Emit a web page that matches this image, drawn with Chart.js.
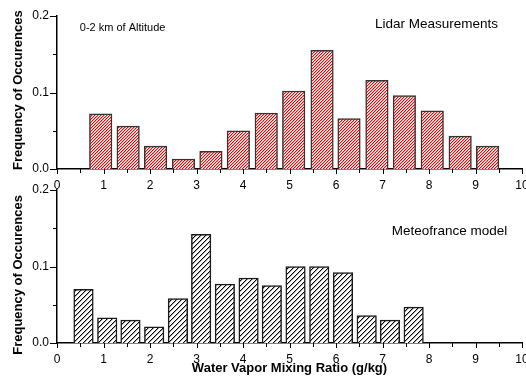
<!DOCTYPE html>
<html>
<head>
<meta charset="utf-8">
<script src="https://cdn.jsdelivr.net/npm/chart.js@4"></script>
<style>
  body { margin: 0; background: #fff; }
  #wrap { position: relative; width: 526px; height: 376px; overflow: hidden; }
  .panel { position: absolute; left: 0; width: 526px; }
</style>
</head>
<body>
<div id="wrap">
  <div class="panel" style="top:0;height:190px"><canvas id="lidarChart"></canvas></div>
  <div class="panel" style="top:176px;height:200px"><canvas id="modelChart"></canvas></div>
</div>
<script>
// bin centres (g/kg) and frequencies
const lidarBins = [0.94, 1.53, 2.12, 2.72, 3.31, 3.90, 4.50, 5.09, 5.70, 6.28, 6.88, 7.47, 8.07, 8.67, 9.26];
const lidarFreq = [0.072, 0.056, 0.030, 0.013, 0.023, 0.050, 0.073, 0.102, 0.155, 0.066, 0.116, 0.096, 0.076, 0.043, 0.030];

const modelBins = [0.57, 1.08, 1.58, 2.09, 2.60, 3.10, 3.61, 4.12, 4.62, 5.13, 5.64, 6.15, 6.66, 7.16, 7.67];
const modelFreq = [0.070, 0.033, 0.030, 0.021, 0.058, 0.142, 0.077, 0.085, 0.075, 0.100, 0.100, 0.092, 0.036, 0.030, 0.047];

const xTickLabels = ["0", "1", "2", "3", "4", "5", "6", "7", "8", "9", "10"];
const yTickLabels = ["0.0", "0.1", "0.2"];
const yTitle = "Frequency of Occurences";
const xTitle = "Water Vapor Mixing Ratio (g/kg)";

const FONT = "'Liberation Sans', Arial, sans-serif";

// crisp "/" hatch: a solid diagonal pixel line with a softer neighbour pixel
function hatch(color, soft, size) {
  const c = document.createElement("canvas");
  c.width = size;
  c.height = size;
  const g = c.getContext("2d");
  g.fillStyle = "#ffffff";
  g.fillRect(0, 0, size, size);
  for (let i = 0; i < size; i++) {
    g.fillStyle = color;
    g.fillRect(i, size - 1 - i, 1, 1);
    g.fillStyle = soft;
    g.fillRect((i + 1) % size, size - 1 - i, 1, 1);
  }
  return g.createPattern(c, "repeat");
}

// ticks with long major / short minor marks, rotated y title, panel notes
const axisMarks = {
  id: "axisMarks",
  afterDraw(chart, args, opts) {
    const { ctx, chartArea } = chart;
    const xs = chart.scales.x, ys = chart.scales.y;
    ctx.save();
    ctx.strokeStyle = "#000";
    ctx.lineWidth = 1;
    ctx.beginPath();
    ys.ticks.forEach((t) => {
      const y = Math.round(ys.getPixelForValue(t.value)) + 0.5;
      const major = Math.abs(t.value * 10 - Math.round(t.value * 10)) < 1e-6;
      ctx.moveTo(chartArea.left - (major ? 7 : 4), y);
      ctx.lineTo(chartArea.left, y);
    });
    xs.ticks.forEach((t) => {
      const x = Math.round(xs.getPixelForValue(t.value)) + 0.5;
      const major = Math.abs(t.value - Math.round(t.value)) < 1e-6;
      ctx.moveTo(x, chartArea.bottom);
      ctx.lineTo(x, chartArea.bottom + (major ? 5 : 4));
    });
    ctx.stroke();

    ctx.fillStyle = "#000";
    ctx.textBaseline = "middle";

    // y title, centred where the original puts it
    ctx.save();
    ctx.translate(xs.getPixelForValue(-0.84), ys.getPixelForValue(opts.titleAt));
    ctx.rotate(-Math.PI / 2);
    ctx.textAlign = "center";
    ctx.font = "bold 13px " + FONT;
    ctx.fillText(yTitle, 0, 0);
    ctx.restore();

    ctx.textAlign = "left";
    (opts.notes || []).forEach((n) => {
      ctx.font = n.size + "px " + FONT;
      ctx.fillText(n.text, xs.getPixelForValue(n.x), ys.getPixelForValue(n.y));
    });
    ctx.restore();
  },
};

function makePanel(id, bins, freq, fill, edge, barW, xAxisH, padTop, showXTitle, titleAt, notes) {
  return new Chart(document.getElementById(id), {
    type: "bar",
    data: {
      datasets: [
        {
          data: bins.map((b, i) => ({ x: b, y: freq[i] })),
          backgroundColor: fill,
          hoverBackgroundColor: fill,
          borderColor: edge,
          borderWidth: 1.5,
          barThickness: barW,
        },
      ],
    },
    options: {
      responsive: true,
      maintainAspectRatio: false,
      animation: false,
      layout: { padding: { top: padTop, right: 4, left: 0, bottom: 0 } },
      plugins: {
        legend: { display: false },
        tooltip: { enabled: false },
        axisMarks: { notes: notes, titleAt: titleAt },
      },
      scales: {
        x: {
          type: "linear",
          min: 0,
          max: 10,
          offset: false,
          grid: { display: false, drawTicks: false },
          border: { display: true, color: "#000", width: 1.5 },
          ticks: {
            stepSize: 0.5,
            autoSkip: false,
            maxRotation: 0,
            padding: 9,
            color: "#000",
            font: { family: FONT, size: 12 },
            callback: (v) => {
              const i = Math.round(v);
              return Math.abs(v - i) < 1e-6 ? xTickLabels[i] : "";
            },
          },
          title: {
            display: showXTitle,
            text: xTitle,
            color: "#000",
            font: { family: FONT, size: 13, weight: "bold" },
            padding: { top: 0, bottom: 0 },
          },
          afterFit: (s) => {
            s.height = xAxisH;
            s.paddingLeft = 0;
            s.paddingRight = 0;
          },
        },
        y: {
          min: 0,
          max: 0.2,
          grid: { display: false, drawTicks: false },
          border: { display: true, color: "#000", width: 1.5 },
          ticks: {
            stepSize: 0.05,
            autoSkip: false,
            padding: 8,
            color: "#000",
            font: { family: FONT, size: 12 },
            callback: (v) => {
              const i = Math.round(v * 10);
              return Math.abs(v * 10 - i) < 1e-6 ? yTickLabels[i] : "";
            },
          },
          afterFit: (s) => {
            s.width = 57;
            s.paddingTop = 0;
            s.paddingBottom = 0;
          },
        },
      },
    },
    plugins: [axisMarks],
  });
}

makePanel("lidarChart", lidarBins, lidarFreq, hatch("#ff0000", "#ffa8a8", 3), "#333333", 22.5, 21, 16, false, 0.103, [
  { text: "0-2 km of Altitude", x: 0.49, y: 0.185, size: 11 },
  { text: "Lidar Measurements", x: 6.84, y: 0.189, size: 13.5 },
]);

makePanel("modelChart", modelBins, modelFreq, hatch("#000000", "#a8a8a8", 5), "#1a1a1a", 19.5, 33, 14, true, 0.089, [
  { text: "Meteofrance model", x: 7.2, y: 0.1455, size: 13.5 },
]);
</script>
</body>
</html>
